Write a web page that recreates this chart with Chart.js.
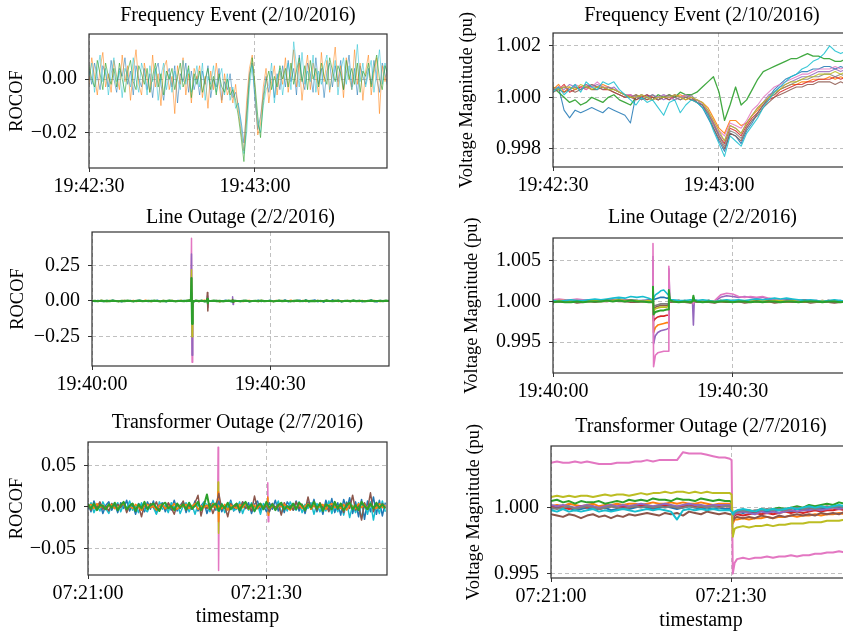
<!DOCTYPE html>
<html>
<head>
<meta charset="utf-8">
<title>PMU events</title>
<script src="https://cdn.jsdelivr.net/npm/chart.js@4.4.1/dist/chart.umd.min.js"></script>
<style>
  html, body { margin: 0; padding: 0; background: #fff; overflow: hidden; width: 843px; height: 635px; }
  canvas { position: absolute; }
</style>
</head>
<body>
<canvas id="c1"></canvas>
<canvas id="c2"></canvas>
<canvas id="c3"></canvas>
<canvas id="c4"></canvas>
<canvas id="c5"></canvas>
<canvas id="c6"></canvas>
<script>
// tab10 colours, same as the matplotlib default cycle
const BLUE = '#1f77b4', ORANGE = '#ff7f0e', GREEN = '#2ca02c', RED = '#d62728', PURPLE = '#9467bd',
      BROWN = '#8c564b', PINK = '#e377c2', GRAY = '#7f7f7f', OLIVE = '#bcbd22', CYAN = '#17becf';

// ---- Frequency event 2/10/2016: ROCOF, samples every 0.5 s, values in 1e-3 Hz/s ----
const P1_DT = 0.5;
const P1_BLUE = [3,-2,6,1,-4,5,2,-3,7,0, -5,4,1,8,-2,3,-6,5,0,-3, 4,-4,2,-7,3,6,-2,-8,1,4, -3,5,-9,2,-1,6,-5,3,-4,1,
  -6,3,-2,5,-7,0,-3,4,-8,-1, -4,2,-7,-5,-10,-16,-24,-12,2,6, -8,-19,-14,-6,1,-5,3,-7,2,-4, 5,-3,7,-1,4,-6,9,0,-4,6,
  2,-5,8,-2,4,-7,3,6,-3,5, -1,7,-4,2,9,-3,4,-6,5,1, -2,4,-2,7,0,-5,6,2,-3];
const P1_ORANGE = [-2,8,1,-6,4,10,-3,2,-5,7, 1,-4,9,-1,5,-8,3,11,-2,-6, 6,0,-5,9,-3,2,-10,4,7,-4, 1,-13,5,-2,8,-6,2,-9,4,0,
  5,-7,1,-11,3,-4,6,-2,-9,2, -6,-3,-9,-2,-12,-20,-27,-8,4,9, -4,-21,-17,-3,4,-9,-1,5,-6,3, -2,8,-5,3,11,-3,6,-8,2,9,
  -4,6,1,-6,10,-1,7,-5,3,12, -3,5,-7,8,1,-4,11,-2,6,-8, 3,9,-6,2,8,-13,5,-1,4];
const P1_TEAL = [1,6,-5,3,9,-1,4,-6,2,8, -1,3,-7,4,1,-3,8,0,-5,6, 2,-6,5,-1,4,-8,1,6,-4,2, -5,3,0,-4,7,-2,4,-5,-1,5,
  -3,6,-8,1,-2,5,-5,0,4,-6, 2,-8,-3,-11,-9,-18,-28,-20,-3,5, -6,-17,-20,-10,-4,-2,6,-9,0,4, -6,2,6,-4,14,5,-3,10,-2,3,
  -1,9,-5,3,-2,5,9,-4,1,7, -6,3,8,-2,5,-4,1,13,-1,6, -3,2,7,-5,3,11,-2,6,0];
const P1_GREEN = [5,0,-3,7,2,-4,6,1,-2,4, -3,6,0,-5,3,7,-1,-4,5,2, -2,4,-5,1,6,-3,2,-6,3,0, 4,-4,1,6,-3,0,5,-7,2,-2,
  3,-5,0,4,-4,1,-6,2,-3,-5, 0,-6,-4,-8,-14,-22,-31,-15,0,8, -2,-14,-22,-8,-1,3,-4,1,-3,5, 0,4,-3,6,-2,3,8,-1,5,-4,
  7,0,4,-3,6,1,-2,8,3,-1, 5,2,-4,7,0,4,-2,6,-5,3, 1,6,-3,4,9,0,-4,5,2];
const P1_XTICKS = [0, 30], P1_XLABELS = ['19:42:30', '19:43:00'];
const P1_YTICKS = [-0.02, 0], P1_YLABELS = ['\u22120.02', '0.00'];

// ---- Frequency event 2/10/2016: voltage, one sample per second, values in 1e-4 pu around 1.0 ----
const P2_DT = 1;
const P2_BLUE = [3,4,-5,-8,-5,-6,-5,-4,-5,-6, -4,-5,-6,-7,-10,1,0,1,-1,0, 1,0,-1,0,1,0,-2,-4,-8,-12,
  -17,-21,-14,-15,-18,-13,-10,-6,-3,0, 3,5,7,8,9,10,10,11,11,12, 12,11,12,11,12];
const P2_ORANGE = [3,5,2,4,3,4,5,3,4,5, 4,3,2,1,0,1,0,-1,0,-1, 0,1,0,1,0,-1,-1,-2,-4,-8,
  -12,-14,-9,-9,-11,-10,-7,-5,-2,0, 1,3,4,5,5,6,6,7,7,7, 8,7,8,7,8];
const P2_GREEN = [4,2,0,-2,-1,-3,-2,0,-1,-2, 0,1,-1,-2,-3,0,1,0,-1,1, 0,1,0,2,1,1,2,4,6,8,
  2,-9,-3,4,-3,-1,3,7,10,11, 12,13,14,15,15,16,17,16,16,15, 15,14,14,15,14];
const P2_RED = [4,3,5,2,3,4,3,5,4,3, 3,2,1,0,1,-1,0,1,0,-1, 0,-1,1,0,-1,0,-2,-3,-6,-10,
  -15,-18,-12,-13,-15,-11,-8,-6,-3,-1, 0,2,3,4,5,5,6,6,7,7, 7,8,7,8,7];
const P2_PURPLE = [3,4,3,5,4,3,5,4,5,4, 3,4,2,1,1,0,-1,0,1,0, -1,0,1,0,0,-1,-1,-3,-5,-10,
  -14,-17,-11,-12,-14,-10,-7,-4,-2,1, 2,4,5,6,7,8,8,9,10,10, 10,11,10,11,10];
const P2_BROWN = [2,3,2,3,2,3,4,3,3,4, 3,2,1,0,0,-1,0,-1,0,-1, 0,-1,0,-1,0,-1,-2,-3,-7,-12,
  -16,-20,-14,-15,-17,-12,-9,-7,-4,-2, 0,1,2,3,4,4,5,5,6,6, 6,5,6,5,6];
const P2_PINK = [3,4,4,3,5,4,3,4,6,4, 4,3,2,1,1,0,1,0,-1,0, 1,0,-1,0,1,0,-1,-2,-6,-9,
  -13,-15,-10,-11,-12,-9,-5,-3,0,2, 4,5,6,7,8,9,9,10,11,11, 11,12,11,12,11];
const P2_GRAY = [3,3,4,3,4,3,4,5,4,3, 4,3,2,1,0,1,-1,0,1,-1, 0,1,0,-1,0,1,-2,-3,-6,-11,
  -15,-19,-13,-14,-16,-12,-9,-6,-3,0, 1,3,4,5,6,7,7,8,8,9, 9,8,9,8,9];
const P2_OLIVE = [4,3,4,4,3,5,4,3,4,4, 3,3,2,1,0,0,1,0,-1,0, 0,0,1,0,-1,0,-1,-2,-5,-9,
  -13,-17,-11,-12,-14,-10,-7,-4,-2,0, 2,3,5,6,6,7,8,8,9,9, 9,10,9,10,9];
const P2_CYAN = [2,4,1,3,5,2,6,4,3,6, 5,6,3,1,-1,-3,0,-2,-1,-4, -7,-2,-1,-6,-3,-1,-2,-4,-7,-13,
  -18,-23,-15,-17,-19,-14,-11,-8,-4,-1, 2,4,6,8,9,11,12,14,15,17, 20,18,17,18,17];
const P2_XTICKS = [0, 30], P2_XLABELS = ['19:42:30', '19:43:00'];
const P2_YTICKS = [0.998, 1.000, 1.002], P2_YLABELS = ['0.998', '1.000', '1.002'];

// ---- Line outage 2/2/2016: ROCOF, 0.5 s samples (1e-3 Hz/s) plus the spikes on a finer time list ----
const P3_DT = 0.5;
const P3_BLUE = [2,-3,4,-1,-4,3,0,5,-2,1, -5,3,-1,4,-3,2,6,-2,0,-4, 3,-1,5,-3,1,-6,4,0,-2,3, -1,4,-3,8,-9,2,-2,3,-4,5,
  -2,1,4,-3,0,5,-1,-6,3,0, -3,4,2,-5,1,-2,6,-4,2,-1, 5,-3,0,4,-2,7,-5,1,-3,3, 6,-4,8,-6,2,7,-5,4,-7,6,
  -3,8,-2,5,-6,3,1,-4,6,-2, 3,-5,2,-1,7,-3,-6,4,0,-2, 3];
const P3_ORANGE = [-1,2,-2,3,1,-3,4,-1,2,-4, 1,3,-2,0,4,-3,1,-1,5,-2, -3,2,1,-4,3,0,-2,4,-1,2, 3,-2,1,6,-7,4,-3,1,5,-4,
  2,-1,3,-5,1,2,-2,4,-3,1, 0,-3,2,4,-2,1,-4,3,0,-1, 2,-3,4,-1,3,-2,0,5,-3,2, -1,3,-4,2,0,-2,4,-3,1,3,
  -2,1,4,-3,2,-1,3,-4,0,2, -3,4,-1,2,-2,3,0,-4,2,1, -1];
const P3_GREEN = [0,1,-2,2,-1,1,-1,2,0,-2, 1,-1,2,0,-2,1,2,-1,0,1, -1,2,0,-2,1,-1,2,1,-2,0, 1,-1,2,4,-5,3,-1,2,-3,1,
  0,2,-1,1,-2,0,2,-1,1,0, -1,1,2,-2,0,1,-1,2,-1,0, 1,-2,0,2,-1,1,0,-2,1,2, -1,0,2,-1,1,-2,1,0,-1,2,
  0,-1,1,2,-2,0,1,-1,2,-1, 1,0,-2,1,2,-1,0,1,-1,2, 0];
const P3_EVT_T = [15, 16.65, 16.75, 16.85, 16.95, 19.35, 19.42, 19.5, 19.57, 23.6, 23.67, 23.75, 23.82, 26];
const P3_EVT_PINK   = [0, 0, 440, -430, 0, 0, 20, -25, 0, 0, 10, -10, 0, 0];
const P3_EVT_PURPLE = [0, 0, 330, -380, 0, 0, 35, -45, 0, 0, 30, -25, 0, 0];
const P3_EVT_OLIVE  = [0, 0, 220, -250, 0, 0, 15, -20, 0, 0, 8, -8, 0, 0];
const P3_EVT_BROWN  = [0, 0, 60, -40, 0, 0, 60, -70, 0, 0, 10, -8, 0, 0];
const P3_EVT_GREEN  = [0, 0, 160, -160, 0, 0, 15, -15, 0, 0, 5, -5, 0, 0];
const P3_XTICKS = [0, 30], P3_XLABELS = ['19:40:00', '19:40:30'];
const P3_YTICKS = [-0.25, 0, 0.25], P3_YLABELS = ['\u22120.25', '0.00', '0.25'];

// ---- Line outage 2/2/2016: voltage, 1e-4 pu around 1.0, denser samples around the events ----
const P4_T = [0,1,2,3,4,5,6,7,8,9,10,11,12,13,14,15,16,
  16.55,16.7,16.8,17.1,17.5,18,18.5,19,19.25,19.35,19.5,19.7,
  20,21,22,23, 23.3,23.45,23.6,
  24,25,26,27,28,29,30,31,32,33,34,35,36,37,38,39,40,41,42,43,44,45,46,47,48,49,50];
const P4_BLUE = [0,1,0,1,0,1,1,2,1,2,2,3,2,2,1,1,2, 1,6,2,3,4,5,5,4,4,7,2,1, 1,1,0,1, 1,4,1,
  1,0,1,0,1,0,1,1,0,1,1,0,1,2,2,3,2,1,2,1,1,0,1,0,1,0,1];
const P4_ORANGE = [0,0,-1,0,0,1,0,1,1,1,2,1,1,1,0,1,0, 0,5,-38,-32,-29,-28,-27,-26,-26,6,1,0, 1,0,0,1, 0,3,0,
  0,0,-1,0,0,-1,0,0,-1,0,0,0,-1,0,0,-1,0,0,-1,0,0,0,-1,0,-1,0,0];
const P4_RED = [0,1,0,0,1,0,1,0,1,1,1,2,1,1,0,0,1, 0,8,-24,-21,-19,-18,-18,-17,-17,10,2,0, 0,1,0,0, 0,4,1,
  0,1,0,0,1,0,1,0,0,1,0,0,1,0,0,1,0,0,1,0,0,0,1,0,0,1,0];
const P4_PURPLE = [0,1,0,1,0,1,2,1,1,2,2,1,2,1,1,0,1, 0,55,-52,-42,-38,-36,-35,-34,-33,40,2,1, 1,0,1,0, 0,-29,2,
  1,0,1,0,5,7,6,5,6,5,4,5,3,2,2,1,1,0,1,0,0,1,0,-1,0,1,0];
const P4_BROWN = [-1,0,-1,0,-2,-1,0,-1,0,0,1,0,0,-1,-1,0,-1, -1,3,-9,-7,-6,-5,-5,-5,-4,4,0,-1, -1,0,-1,-2, -1,2,0,
  -1,0,-1,-2,0,-1,-1,0,-2,-1,0,-1,0,-2,-1,0,-1,-1,0,-2,-1,0,-1,-2,-1,0,-1];
const P4_PINK = [2,3,2,2,3,2,1,2,1,0,1,2,1,1,0,1,1, 0,71,-80,-66,-63,-62,-61,-61,-61,43,3,1, 0,1,0,1, 0,-3,1,
  0,1,0,1,8,10,9,6,5,6,5,6,4,3,2,1,1,0,1,0,1,0,0,1,0,0,1];
const P4_GRAY = [0,0,1,0,0,0,1,0,1,1,1,1,0,1,1,0,0, 0,2,-6,-5,-4,-3,-3,-3,-3,3,1,0, 0,0,1,0, 0,2,0,
  0,0,1,0,0,1,0,0,0,1,0,0,0,1,0,0,0,0,1,0,0,0,0,1,0,0,0];
const P4_OLIVE = [0,1,1,0,1,0,1,1,0,1,1,2,1,1,1,0,1, 0,12,-12,-9,-8,-7,-7,-7,-6,8,2,1, 0,1,0,1, 0,3,1,
  1,0,1,0,1,1,0,1,0,1,0,1,0,1,1,0,1,0,1,0,0,1,0,1,0,1,0];
const P4_CYAN = [1,0,1,2,1,1,2,3,2,3,4,5,4,6,5,6,4, 2,10,4,8,10,13,14,10,8,10,3,2, 2,1,1,2, 1,5,2,
  1,2,1,0,1,2,1,2,1,2,3,2,3,4,3,4,3,2,1,2,1,0,1,2,1,0,1];
const P4_GREEN = [-1,0,-1,-1,0,-1,0,0,0,1,0,1,0,1,0,0,-1, -1,18,-16,-13,-12,-11,-11,-10,-10,14,3,1, 0,-1,0,-1, 0,7,1,
  0,-1,0,-1,0,0,-1,0,0,-1,0,-1,0,0,-1,0,0,-1,0,0,0,-1,0,0,-1,0,0];
const P4_XTICKS = [0, 30], P4_XLABELS = ['19:40:00', '19:40:30'];
const P4_YTICKS = [0.995, 1.000, 1.005], P4_YLABELS = ['0.995', '1.000', '1.005'];

// ---- Transformer outage 2/7/2016: ROCOF, 0.5 s samples (1e-3 Hz/s) plus spikes ----
const P5_DT = 0.5;
const P5_BLUE = [4,-6,7,-3,5,-8,2,6,-4,3, -7,5,-2,8,-5,3,-9,4,1,-6, 6,-3,7,-8,2,5,-6,3,-4,8, -5,2,6,-7,4,-3,7,-5,1,6,
  -8,3,5,-4,7,-6,2,-3,8,-5, 4,-7,6,-2,5,-8,3,7,-4,2, -6,5,-3,8,-5,4,-7,6,1,-4, 7,-5,3,-8,6,-2,9,-6,4,-9,
  8,-4,10,-7,5,-10,9,-3,11,-8, 6,-12,9,-15,7,-6,12,-9,8,-11, 5];
const P5_CYAN = [-3,5,-7,2,-5,6,-2,-8,4,-1, 5,-6,3,-2,7,-4,1,-7,5,-3, -6,4,-1,-9,6,-3,2,-7,5,-2, 4,-8,1,5,-6,2,-9,3,-2,5,
  3,-6,8,-2,-5,4,-7,1,6,-4, -3,6,-8,2,-4,5,-6,3,-9,4, -1,-6,4,-3,7,-8,2,-5,6,-2, -4,6,-7,3,-2,5,-9,4,-6,2,
  -5,7,-8,3,-6,4,-10,6,-13,2, -7,5,-14,3,-9,6,-16,4,-8,7, -6];
const P5_BROWN = [2,-4,3,-1,6,-3,1,-5,4,-2, 3,-1,5,-7,2,4,-3,1,-12,3, -2,4,-1,6,-4,2,-3,5,-1,-9, 3,-2,7,-4,1,-3,5,14,-11,3,
  -2,4,-8,2,16,-3,1,-12,4,-1, 3,-4,6,-2,1,-5,13,-2,4,-3, 2,-6,4,-1,3,-10,5,-2,1,-4, 6,-2,3,-5,12,-3,2,-4,5,-1,
  3,-6,2,4,-3,1,-7,5,-2,14, -4,2,-16,5,-3,17,-6,3,-2,4, -1];
const P5_ORANGE = [1,3,-2,4,-1,2,-3,1,3,-2, -1,2,4,-3,1,-2,3,0,-4,2, 3,-1,1,-4,2,3,-2,1,-1,4, -3,2,0,3,-2,1,4,-3,1,-1,
  2,-3,4,-1,1,-2,3,-4,2,0, -2,3,-1,4,-3,1,2,-2,3,-1, 4,-2,1,-3,2,0,3,-1,-4,2, -1,3,-2,1,4,-3,2,-1,0,3,
  -3,2,4,-1,1,-2,3,-4,2,1, -2,4,-1,3,-3,2,0,-2,4,-1, 2];
const P5_GREEN = [3,-2,4,-4,2,1,-3,3,-1,5, -4,2,6,-3,1,4,-5,3,-2,6, -3,2,4,-1,-5,3,5,-2,1,-4, 4,-1,3,-3,5,-2,1,6,-4,2,
  15,-3,2,4,-5,3,-2,5,-3,1, 4,-4,2,6,-2,3,-5,1,4,-3, 6,-1,3,-4,2,5,-3,1,-2,4, -3,5,2,-4,3,-1,6,-2,4,-5,
  3,1,-3,6,-2,4,-4,2,5,-3, 2,-4,6,1,-3,4,-2,5,-1,3, -2];
const P5_EVT_T = [20, 21.8, 21.88, 21.96, 22.05, 30.15, 30.23, 30.31, 30.4, 32];
const P5_EVT_PINK   = [0, 0, 72, -77, 0, 0, 29, -18, 0, 0];
const P5_EVT_OLIVE  = [0, 0, 30, -32, 0, 0, 10, -8, 0, 0];
const P5_EVT_ORANGE = [0, 0, 18, -18, 0, 0, 12, -10, 0, 0];
const P5_XTICKS = [0, 30], P5_XLABELS = ['07:21:00', '07:21:30'];
const P5_YTICKS = [-0.05, 0, 0.05], P5_YLABELS = ['\u22120.05', '0.00', '0.05'];

// ---- Transformer outage 2/7/2016: voltage, 1e-4 pu around 1.0 ----
const P6_T = [0,1,2,3,4,5,6,7,8,9,10,11,12,13,14,15,16,17,18,19,20,21,22,23,24,25,26,27,28,29,
  29.8,30.1,30.3,30.6, 31,32,33,34,35,36,37,38,39,40,41,42,43,44,45,46,47,48,49,50];
const P6_BLUE = [-1,0,-1,0,-2,-1,0,-1,-1,0,-2,-1,0,-1,0,1,0,-1,0,1,0,-1,0,1,0,-1,0,-1,0,-1, -1,-2,-6,-4,
  -3,-4,-3,-4,-2,-3,-3,-2,-2,-3,-1,-2,-1,0,-1,0,1,0,1,0];
const P6_ORANGE = [1,2,1,3,2,1,2,3,1,2,2,3,2,3,3,2,3,4,3,3,4,3,4,3,3,4,3,2,3,3, 3,2,-12,-9,
  -9,-8,-9,-8,-8,-7,-8,-7,-7,-6,-7,-6,-6,-5,-6,-5,-5,-4,-5,-4];
const P6_GREEN = [5,6,4,5,3,5,4,4,5,3,4,5,4,6,5,6,5,7,6,6,5,7,6,6,5,7,6,5,6,5, 5,4,-8,-5,
  -4,-3,-2,-3,-1,-2,-1,0,-1,0,1,0,2,1,2,3,2,4,3,4];
const P6_RED = [0,1,0,-1,0,1,0,1,-1,0,1,0,1,0,1,2,1,0,1,2,1,0,1,2,1,0,1,2,1,1, 1,0,-8,-6,
  -5,-6,-5,-4,-5,-4,-5,-4,-3,-4,-3,-4,-3,-2,-3,-2,-2,-1,-2,-1];
const P6_PURPLE = [2,1,2,1,0,1,2,1,0,1,2,1,2,1,2,3,2,1,2,3,2,1,2,3,2,2,1,2,2,2, 2,1,-7,-5,
  -4,-3,-4,-5,-3,-4,-3,-4,-3,-2,-3,-2,-2,-1,-2,-1,0,-1,0,-1];
const P6_BROWN = [-5,-6,-7,-5,-6,-8,-6,-5,-7,-6,-8,-6,-7,-5,-6,-5,-4,-5,-6,-4,-5,-4,-6,-3,-4,-5,-3,-4,-5,-4, -5,-5,-10,-8,
  -7,-8,-7,-8,-6,-7,-8,-6,-7,-6,-5,-6,-5,-6,-4,-5,-4,-5,-3,-4];
const P6_PINK = [34,35,34,34,35,34,35,34,33,33,33,34,34,34,35,35,36,35,36,36,36,36,42,41,41,41,40,39,38,38, 37,36,-50,-42,
  -39,-38,-39,-38,-38,-37,-38,-37,-37,-36,-37,-36,-36,-35,-35,-34,-34,-33,-34,-34];
const P6_GRAY = [0,-1,0,1,-1,0,1,0,-1,0,1,0,-1,0,1,0,1,0,1,0,1,0,0,1,0,1,0,1,0,1, 1,0,-6,-4,
  -3,-2,-3,-2,-2,-1,-2,-1,-2,-1,0,-1,0,-1,0,1,0,1,0,0];
const P6_OLIVE = [8,9,8,9,8,9,9,8,9,10,9,10,10,9,10,11,10,11,11,12,11,12,12,11,12,11,12,11,11,11, 11,10,-22,-16,
  -15,-14,-15,-14,-14,-13,-14,-13,-13,-12,-12,-12,-11,-11,-11,-10,-10,-10,-9,-9];
const P6_CYAN = [-2,-3,-1,-3,-2,-3,-2,-1,-3,-2,-3,-2,-1,-2,-3,-2,-1,-2,-1,-2,-3,-9,-2,-1,-2,-1,-2,-1,-2,-2, -2,-3,-5,-3,
  -2,-1,-2,-3,-1,-2,-1,-2,-1,0,-1,0,1,0,1,0,1,2,1,1];
const P6_XTICKS = [0, 30], P6_XLABELS = ['07:21:00', '07:21:30'];
const P6_YTICKS = [0.995, 1.000], P6_YLABELS = ['0.995', '1.000'];

const ROCOF_UNIT = 1e-3;   // stored ROCOF values are in mHz/s
const PU_UNIT = 1e-4;      // stored voltages are deviations from 1 pu in 1e-4 pu

const SERIF = "'Liberation Serif', 'DejaVu Serif', serif";
const GRID = '#b0b0b0';
const AXIS = '#333333';

function gridTimes(n, dt) {
    return Array.from({ length: n }, (_, i) => i * dt);
}

function toPoints(times, values, unit, base) {
    return values.map((v, i) => ({ x: times[i], y: base + v * unit }));
}

function rgba(hex, a) {
    const n = parseInt(hex.slice(1), 16);
    return `rgba(${(n >> 16) & 255}, ${(n >> 8) & 255}, ${n & 255}, ${a})`;
}

function line(points, color, width, alpha) {
    return {
        data: points,
        borderColor: rgba(color, alpha == null ? 1 : alpha),
        borderWidth: width,
        borderJoinStyle: 'round',
        pointRadius: 0,
        tension: 0,
        fill: false,
        clip: 0
    };
}

// draws the four spines like matplotlib
const frameBox = {
    id: 'frameBox',
    afterDraw(chart) {
        const { ctx, chartArea: a } = chart;
        ctx.save();
        ctx.strokeStyle = AXIS;
        ctx.lineWidth = 1.2;
        ctx.strokeRect(a.left, a.top, a.right - a.left, a.bottom - a.top);
        ctx.restore();
    }
};

function makePanel(p) {
    const cv = document.getElementById(p.id);
    const w = p.yw + p.plotW + p.padR;
    const h = p.titleH + p.plotH + p.xh;
    cv.width = w; cv.height = h;
    cv.style.left = p.left + 'px'; cv.style.top = p.top + 'px';
    cv.style.width = w + 'px'; cv.style.height = h + 'px';

    const tickFont = { family: SERIF, size: 20, lineHeight: 1.2 };
    new Chart(cv, {
        type: 'line',
        data: { datasets: p.datasets.slice().reverse() },   // first dataset is drawn on top in Chart.js
        options: {
            responsive: false,
            animation: false,
            devicePixelRatio: 1,
            layout: { padding: { left: 0, right: p.padR, top: 0, bottom: 0 } },
            plugins: {
                legend: { display: false },
                tooltip: { enabled: false },
                title: {
                    display: true, text: p.title, fullSize: false, color: '#000',
                    font: { family: SERIF, size: 20, weight: 'normal', lineHeight: 1.2 },
                    padding: { top: 0, bottom: p.titleH - 24 }
                }
            },
            scales: {
                x: {
                    type: 'linear', min: 0, max: p.xMax,
                    afterFit: s => { s.height = p.xh; },
                    afterBuildTicks: s => { s.ticks = p.xTicks.map(v => ({ value: v })); },
                    ticks: {
                        callback: (v, i) => p.xLabels[i], autoSkip: false, maxRotation: 0,
                        padding: 3, color: '#000', font: tickFont
                    },
                    grid: { color: GRID, lineWidth: 0.8, tickColor: AXIS, tickLength: 4, tickWidth: 1 },
                    border: { display: false, dash: [4, 3] },
                    title: {
                        display: !!p.xTitle, text: p.xTitle || '', color: '#000',
                        font: { family: SERIF, size: 20, lineHeight: 1.2 }, padding: { top: 0, bottom: 0 }
                    }
                },
                y: {
                    type: 'linear', min: p.yMin, max: p.yMax,
                    afterFit: s => { s.width = p.yw; },
                    afterBuildTicks: s => { s.ticks = p.yTicks.map(v => ({ value: v })); },
                    ticks: {
                        callback: (v, i) => p.yLabels[i], autoSkip: false,
                        padding: 8, color: '#000', font: tickFont
                    },
                    grid: { color: GRID, lineWidth: 0.8, tickColor: AXIS, tickLength: 4, tickWidth: 1 },
                    border: { display: false, dash: [4, 3] },
                    title: {
                        display: true, text: p.yTitle, color: '#000',
                        font: { family: SERIF, size: 18.5, lineHeight: 1.2 }, padding: { top: 0, bottom: 0 }
                    }
                }
            }
        },
        plugins: [frameBox]
    });
}

// ---------- build the six panels ----------
const t1 = gridTimes(P1_BLUE.length, P1_DT);
const roc1 = v => toPoints(t1, v, ROCOF_UNIT, 0);
makePanel({
    id: 'c1', left: 6, top: 4, yw: 83, plotW: 298, plotH: 134, titleH: 30, xh: 35, padR: 6,
    title: 'Frequency Event (2/10/2016)', yTitle: 'ROCOF',
    xMax: 53.86, yMin: -0.0334, yMax: 0.0169,
    xTicks: P1_XTICKS, xLabels: P1_XLABELS, yTicks: P1_YTICKS, yLabels: P1_YLABELS,
    datasets: [
        line(roc1(P1_BLUE), BLUE, 1, 0.55),
        line(roc1(P1_ORANGE), ORANGE, 1, 0.55),
        line(roc1(P1_TEAL), CYAN, 1, 0.5),
        line(roc1(P1_GREEN), GREEN, 1, 0.6)
    ]
});

const t2 = gridTimes(P2_BLUE.length, P2_DT);
const v2 = v => toPoints(t2, v, PU_UNIT, 1);
makePanel({
    id: 'c2', left: 456, top: 4, yw: 97, plotW: 298, plotH: 134, titleH: 29, xh: 35, padR: 10,
    title: 'Frequency Event (2/10/2016)', yTitle: 'Voltage Magnitude (pu)',
    xMax: 53.86, yMin: 0.99729, yMax: 1.0025,
    xTicks: P2_XTICKS, xLabels: P2_XLABELS, yTicks: P2_YTICKS, yLabels: P2_YLABELS,
    datasets: [
        line(v2(P2_BLUE), BLUE, 1.1, 0.85),
        line(v2(P2_ORANGE), ORANGE, 1.1, 0.9),
        line(v2(P2_GREEN), GREEN, 1.3, 0.9),
        line(v2(P2_RED), RED, 1.1, 0.85),
        line(v2(P2_PURPLE), PURPLE, 1.1, 0.85),
        line(v2(P2_BROWN), BROWN, 1.1, 0.85),
        line(v2(P2_PINK), PINK, 1.1, 0.85),
        line(v2(P2_GRAY), GRAY, 1.1, 0.85),
        line(v2(P2_OLIVE), OLIVE, 1.1, 0.85),
        line(v2(P2_CYAN), CYAN, 1.1, 0.85)
    ]
});

const t3 = gridTimes(P3_BLUE.length, P3_DT);
const roc3 = v => toPoints(t3, v, ROCOF_UNIT, 0);
const evt3 = v => toPoints(P3_EVT_T, v, ROCOF_UNIT, 0);
makePanel({
    id: 'c3', left: 7, top: 206, yw: 85, plotW: 297, plotH: 134, titleH: 26, xh: 35, padR: 6,
    title: 'Line Outage (2/2/2016)', yTitle: 'ROCOF',
    xMax: 50.0, yMin: -0.456, yMax: 0.484,
    xTicks: P3_XTICKS, xLabels: P3_XLABELS, yTicks: P3_YTICKS, yLabels: P3_YLABELS,
    datasets: [
        line(evt3(P3_EVT_PINK), PINK, 1.5),
        line(evt3(P3_EVT_PURPLE), PURPLE, 1.5),
        line(evt3(P3_EVT_OLIVE), OLIVE, 1.5),
        line(evt3(P3_EVT_BROWN), BROWN, 1.5),
        line(roc3(P3_BLUE), BLUE, 1.5),
        line(roc3(P3_ORANGE), ORANGE, 1.5),
        line(roc3(P3_GREEN), GREEN, 2.2),
        line(evt3(P3_EVT_GREEN), GREEN, 2.2)
    ]
});

const v4 = v => toPoints(P4_T, v, PU_UNIT, 1);
makePanel({
    id: 'c4', left: 461, top: 206, yw: 92, plotW: 299, plotH: 135, titleH: 32, xh: 35, padR: 10,
    title: 'Line Outage (2/2/2016)', yTitle: 'Voltage Magnitude (pu)',
    xMax: 49.94, yMin: 0.99123, yMax: 1.00777,
    xTicks: P4_XTICKS, xLabels: P4_XLABELS, yTicks: P4_YTICKS, yLabels: P4_YLABELS,
    datasets: [
        line(v4(P4_BLUE), BLUE, 1.6),
        line(v4(P4_ORANGE), ORANGE, 1.6),
        line(v4(P4_RED), RED, 1.6),
        line(v4(P4_PURPLE), PURPLE, 1.6),
        line(v4(P4_BROWN), BROWN, 1.6),
        line(v4(P4_PINK), PINK, 1.6),
        line(v4(P4_GRAY), GRAY, 1.6),
        line(v4(P4_OLIVE), OLIVE, 1.6),
        line(v4(P4_CYAN), CYAN, 1.6),
        line(v4(P4_GREEN), GREEN, 2)
    ]
});

const t5 = gridTimes(P5_BLUE.length, P5_DT);
const roc5 = v => toPoints(t5, v, ROCOF_UNIT, 0);
const evt5 = v => toPoints(P5_EVT_T, v, ROCOF_UNIT, 0);
makePanel({
    id: 'c5', left: 6, top: 411, yw: 82, plotW: 299, plotH: 133, titleH: 31, xh: 54, padR: 6,
    title: 'Transformer Outage (2/7/2016)', yTitle: 'ROCOF', xTitle: 'timestamp',
    xMax: 50.28, yMin: -0.0823, yMax: 0.0783,
    xTicks: P5_XTICKS, xLabels: P5_XLABELS, yTicks: P5_YTICKS, yLabels: P5_YLABELS,
    datasets: [
        line(evt5(P5_EVT_PINK), PINK, 1.5),
        line(evt5(P5_EVT_OLIVE), OLIVE, 1.5),
        line(evt5(P5_EVT_ORANGE), ORANGE, 1.5),
        line(roc5(P5_BLUE), BLUE, 1.5),
        line(roc5(P5_CYAN), CYAN, 1.5),
        line(roc5(P5_BROWN), BROWN, 1.5),
        line(roc5(P5_ORANGE), ORANGE, 1.5),
        line(roc5(P5_GREEN), GREEN, 2)
    ]
});

const v6 = v => toPoints(P6_T, v, PU_UNIT, 1);
makePanel({
    id: 'c6', left: 463, top: 415, yw: 88, plotW: 300, plotH: 132, titleH: 31, xh: 55, padR: 10,
    title: 'Transformer Outage (2/7/2016)', yTitle: 'Voltage Magnitude (pu)', xTitle: 'timestamp',
    xMax: 50.0, yMin: 0.99467, yMax: 1.00467,
    xTicks: P6_XTICKS, xLabels: P6_XLABELS, yTicks: P6_YTICKS, yLabels: P6_YLABELS,
    datasets: [
        line(v6(P6_BLUE), BLUE, 2),
        line(v6(P6_ORANGE), ORANGE, 2),
        line(v6(P6_GREEN), GREEN, 2),
        line(v6(P6_RED), RED, 2),
        line(v6(P6_PURPLE), PURPLE, 2),
        line(v6(P6_BROWN), BROWN, 2),
        line(v6(P6_PINK), PINK, 2),
        line(v6(P6_GRAY), GRAY, 2),
        line(v6(P6_OLIVE), OLIVE, 2),
        line(v6(P6_CYAN), CYAN, 2)
    ]
});
</script>
</body>
</html>
